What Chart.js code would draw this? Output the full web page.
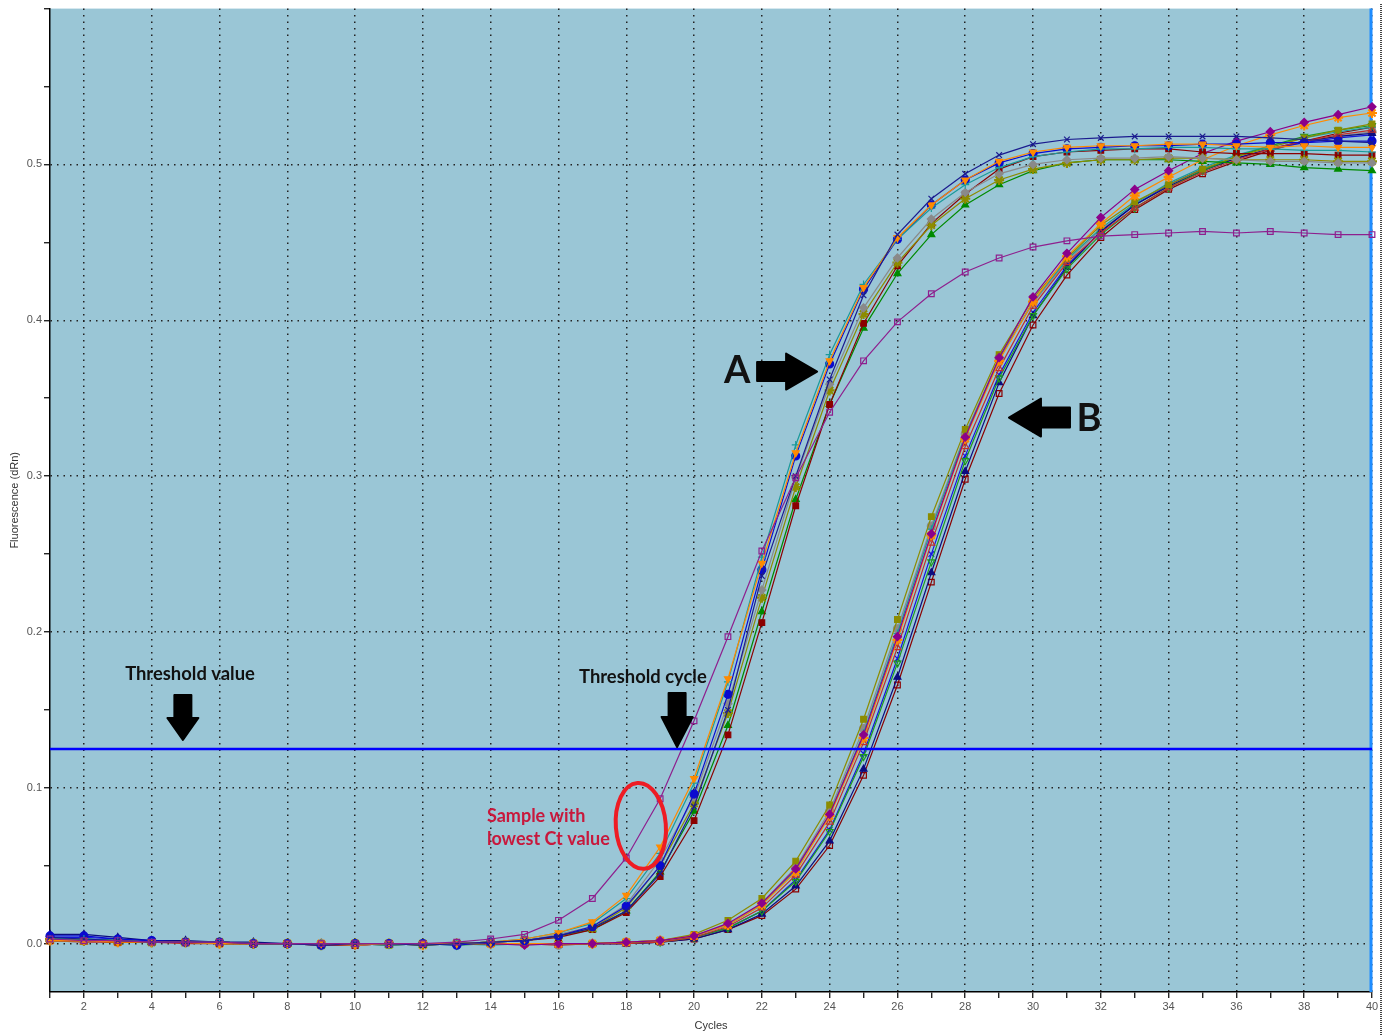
<!DOCTYPE html>
<html>
<head>
<meta charset="utf-8">
<title>Amplification plot</title>
<script src="https://cdn.jsdelivr.net/npm/chart.js@4.4.1/dist/chart.umd.min.js"></script>
<style>
  html, body { margin: 0; padding: 0; background: #fff; }
  #chart { position: relative; width: 1390px; height: 1035px; }
</style>
</head>
<body>
<div id="chart"><canvas id="amp"></canvas></div>
<script>
// Cycle numbers and axis labels
const cycles = [1,2,3,4,5,6,7,8,9,10,11,12,13,14,15,16,17,18,19,20,21,22,23,24,25,26,27,28,29,30,31,32,33,34,35,36,37,38,39,40];
const xLabelValues = [2,4,6,8,10,12,14,16,18,20,22,24,26,28,30,32,34,36,38,40];
const yLabelValues = [0, 0.1, 0.2, 0.3, 0.4, 0.5];
const yLabelText = ['0.0', '0.1', '0.2', '0.3', '0.4', '0.5'];
const thresholdValue = 0.125;

// Fluorescence (dRn) per cycle - early group (A)
const aNavy   = [0.004,0.003,0.002,0.001,0.001,0.001,0.000,0.000,-0.001,0.000,0.000,-0.001,0.000,
  0.001,0.002,0.005,0.010,0.021,0.045,0.088,0.150,0.236,0.300,0.362,0.416,0.455,0.478,0.494,0.506,0.513,0.516,0.517,0.518,0.518,0.518,0.518,0.517,0.516,0.515,0.514];
const aOrange = [0.002,0.002,0.001,0.001,0.001,0.000,0.000,0.000,0.000,-0.001,0.000,0.000,0.000,
  0.001,0.003,0.007,0.014,0.031,0.062,0.106,0.170,0.244,0.315,0.374,0.421,0.453,0.474,0.490,0.502,0.508,0.511,0.512,0.512,0.513,0.513,0.512,0.511,0.512,0.511,0.511];
const aTeal   = [0.003,0.003,0.002,0.001,0.001,0.001,0.000,0.000,0.000,0.000,-0.001,0.000,0.000,
  0.001,0.003,0.007,0.013,0.029,0.058,0.103,0.168,0.248,0.320,0.378,0.423,0.452,0.472,0.487,0.498,0.505,0.508,0.510,0.510,0.511,0.511,0.510,0.510,0.509,0.509,0.508];
const aBlue   = [0.005,0.005,0.003,0.002,0.001,0.001,0.000,0.000,-0.001,0.000,0.000,0.000,-0.001,
  0.001,0.002,0.005,0.011,0.024,0.050,0.096,0.160,0.240,0.313,0.372,0.420,0.452,0.474,0.490,0.501,0.507,0.510,0.511,0.512,0.512,0.513,0.513,0.514,0.514,0.515,0.515];
const aGray   = [0.002,0.002,0.002,0.001,0.001,0.000,0.000,0.000,0.000,-0.001,0.000,0.000,0.000,
  0.001,0.002,0.006,0.011,0.025,0.054,0.094,0.154,0.227,0.299,0.359,0.408,0.440,0.465,0.482,0.494,0.500,0.503,0.504,0.504,0.505,0.504,0.503,0.502,0.502,0.501,0.501];
const aOlive  = [0.003,0.002,0.002,0.001,0.001,0.001,0.000,0.000,-0.001,0.000,0.000,0.000,0.000,
  0.001,0.002,0.005,0.010,0.023,0.050,0.090,0.148,0.222,0.293,0.355,0.404,0.437,0.461,0.478,0.490,0.497,0.501,0.503,0.503,0.504,0.504,0.503,0.503,0.503,0.502,0.502];
const aMaroon = [0.002,0.002,0.001,0.001,0.001,0.000,0.000,0.000,-0.001,-0.001,0.000,0.000,0.000,
  0.001,0.002,0.004,0.009,0.020,0.043,0.079,0.134,0.206,0.281,0.346,0.398,0.435,0.462,0.481,0.497,0.505,0.508,0.509,0.510,0.510,0.508,0.507,0.507,0.507,0.506,0.506];
const aGreen  = [0.003,0.003,0.002,0.001,0.001,0.001,0.000,0.000,0.000,0.000,0.000,-0.001,0.000,
  0.001,0.002,0.005,0.009,0.021,0.046,0.085,0.140,0.213,0.285,0.346,0.395,0.430,0.455,0.474,0.487,0.496,0.501,0.503,0.503,0.503,0.502,0.501,0.500,0.498,0.497,0.496];
const aPurple = [0.003,0.002,0.002,0.001,0.001,0.001,0.000,0.000,0.000,0.000,0.000,0.000,0.001,
  0.003,0.006,0.015,0.029,0.055,0.093,0.143,0.197,0.252,0.299,0.341,0.374,0.399,0.417,0.431,0.440,0.447,0.451,0.454,0.455,0.456,0.457,0.456,0.457,0.456,0.455,0.455];

// Fluorescence (dRn) per cycle - late group (B)
const bOlive  = [0.002,0.002,0.001,0.001,0.001,0.000,0.000,0.000,0.000,0.000,-0.001,0.000,0.000,0.000,0.000,0.000,0.000,0.001,0.002,
  0.006,0.015,0.029,0.053,0.089,0.144,0.208,0.274,0.330,0.378,0.414,0.440,0.461,0.476,0.487,0.497,0.505,0.511,0.517,0.522,0.526];
const bPurple = [0.003,0.002,0.002,0.001,0.001,0.001,0.000,0.000,0.000,-0.001,0.000,0.000,0.000,0.000,-0.001,0.000,0.000,0.001,0.002,
  0.005,0.013,0.026,0.048,0.083,0.134,0.197,0.263,0.325,0.376,0.415,0.443,0.466,0.484,0.496,0.507,0.515,0.521,0.527,0.532,0.537];
const bOrange = [0.002,0.002,0.001,0.001,0.001,0.000,0.000,0.000,0.000,0.000,0.000,-0.001,0.000,0.000,0.000,0.000,0.000,0.001,0.002,
  0.005,0.012,0.025,0.046,0.082,0.132,0.195,0.262,0.324,0.374,0.412,0.441,0.462,0.480,0.492,0.503,0.512,0.519,0.525,0.530,0.533];
const bRed    = [0.002,0.001,0.001,0.001,0.000,0.000,0.000,0.000,-0.001,0.000,0.000,0.000,0.000,0.000,0.000,-0.001,0.000,0.000,0.001,
  0.004,0.011,0.023,0.044,0.078,0.129,0.190,0.257,0.319,0.369,0.409,0.437,0.456,0.472,0.485,0.495,0.503,0.510,0.515,0.519,0.522];
const bGreen  = [0.003,0.002,0.002,0.001,0.001,0.000,0.000,0.000,0.000,0.000,0.000,0.000,-0.001,0.000,0.000,0.000,0.000,0.001,0.001,
  0.004,0.010,0.021,0.040,0.072,0.120,0.180,0.245,0.310,0.363,0.403,0.433,0.455,0.472,0.485,0.496,0.505,0.512,0.518,0.522,0.525];
const bMaroon = [0.002,0.002,0.001,0.001,0.001,0.000,0.000,0.000,0.000,-0.001,0.000,0.000,0.000,0.000,0.000,0.000,0.000,0.000,0.001,
  0.003,0.009,0.018,0.035,0.063,0.108,0.166,0.232,0.298,0.353,0.397,0.429,0.453,0.471,0.484,0.494,0.502,0.509,0.515,0.520,0.524];
const bNavy   = [0.006,0.006,0.004,0.002,0.002,0.001,0.001,0.000,0.000,0.000,-0.001,0.000,0.000,0.000,0.000,0.000,0.000,0.000,0.001,
  0.003,0.009,0.019,0.037,0.066,0.112,0.171,0.238,0.303,0.360,0.403,0.434,0.457,0.474,0.486,0.496,0.504,0.510,0.515,0.518,0.520];
const bTeal   = [0.003,0.003,0.002,0.001,0.001,0.001,0.000,0.000,0.000,0.000,0.000,0.000,0.000,-0.001,0.000,0.000,0.000,0.001,0.002,
  0.005,0.012,0.025,0.047,0.083,0.135,0.199,0.266,0.326,0.375,0.412,0.439,0.459,0.475,0.488,0.498,0.506,0.512,0.517,0.521,0.524];
const bBlue   = [0.004,0.004,0.003,0.002,0.001,0.001,0.000,0.000,0.000,0.000,0.000,-0.001,0.000,0.000,0.000,0.000,0.000,0.000,0.001,
  0.004,0.010,0.021,0.041,0.073,0.122,0.183,0.250,0.313,0.365,0.405,0.435,0.457,0.474,0.487,0.497,0.504,0.510,0.514,0.517,0.519];
const bGray   = [0.002,0.002,0.001,0.001,0.001,0.000,0.000,0.000,0.000,0.000,0.000,0.000,0.000,0.000,0.000,-0.001,0.000,0.001,0.002,
  0.005,0.012,0.026,0.049,0.085,0.138,0.202,0.268,0.327,0.376,0.411,0.438,0.458,0.474,0.486,0.496,0.504,0.510,0.514,0.518,0.521];

// line colour, marker and fill for every well
const wells = [
  { data: aPurple, color: '#8e1f8e', marker: 'rect',     filled: false },
  { data: aNavy,   color: '#1b1b8f', marker: 'crossRot', filled: false },
  { data: aOrange, color: '#ff8a00', marker: 'triangle', filled: true, rot: 180 },
  { data: aTeal,   color: '#1a9a9a', marker: 'cross',    filled: false },
  { data: aBlue,   color: '#0a0ad0', marker: 'circle',   filled: true },
  { data: aGray,   color: '#8a8a8a', marker: 'rectRot',  filled: true },
  { data: aOlive,  color: '#8c8c00', marker: 'star',     filled: true },
  { data: aMaroon, color: '#8b0000', marker: 'rect',     filled: true },
  { data: aGreen,  color: '#008a00', marker: 'triangle', filled: true },
  { data: bPurple, color: '#8b008b', marker: 'rectRot',  filled: true },
  { data: bOrange, color: '#ff8a00', marker: 'star',     filled: true },
  { data: bOlive,  color: '#8c8c00', marker: 'rect',     filled: true },
  { data: bRed,    color: '#c0302a', marker: 'triangle', filled: false },
  { data: bGreen,  color: '#1e9a1e', marker: 'triangle', filled: false, rot: 180 },
  { data: bNavy,   color: '#0c0c80', marker: 'triangle', filled: true },
  { data: bTeal,   color: '#1a9a9a', marker: 'cross',    filled: false },
  { data: bBlue,   color: '#1414e0', marker: 'crossRot', filled: false },
  { data: bGray,   color: '#8a8a8a', marker: 'circle',   filled: true },
  { data: bMaroon, color: '#8b0000', marker: 'rect',     filled: false }
];

function toPoints(values) {
  return values.map((v, i) => ({ x: cycles[i], y: v }));
}

const datasets = [{
  label: 'Threshold',
  data: [{ x: cycles[0], y: thresholdValue }, { x: cycles[cycles.length - 1], y: thresholdValue }],
  borderColor: '#0000ff',
  borderWidth: 2.5,
  pointRadius: 0,
  clip: false
}];
wells.forEach((w, i) => {
  datasets.push({
    label: 'Well ' + (i + 1),
    data: toPoints(w.data),
    borderColor: w.color,
    borderWidth: 1.2,
    pointStyle: w.marker,
    pointRotation: w.rot || 0,
    pointRadius: w.marker === 'star' ? 5 : 4,
    pointBorderWidth: w.marker === 'star' ? 2.2 : 1.2,
    pointBorderColor: w.color,
    pointBackgroundColor: w.filled ? w.color : 'rgba(0,0,0,0)',
    tension: 0,
    clip: false
  });
});

// Callouts placed in cycle / dRn coordinates
const callouts = {
  thresholdValue: { text: 'Threshold value', x: 5.13, y: 0.173 },
  thresholdArrow: { x: 4.92, from: 0.1595, to: 0.1307 },
  thresholdCycle: { text: 'Threshold cycle', x: 18.49, y: 0.171 },
  cycleArrow: { x: 19.5, from: 0.1608, to: 0.1262 },
  groupA: { text: 'A', x: 21.27, y: 0.3677, from: 21.86, to: 23.63, ay: 0.3671 },
  groupB: { text: 'B', x: 31.65, y: 0.337, from: 31.09, to: 29.29, ay: 0.3376 },
  lowest: { lines: ['Sample with', 'lowest Ct value'], x: 13.89, y: [0.082, 0.0673] },
  ring: { x: 18.43, y: 0.0756 }
};

// block arrow from (x0,y0) to tip (x1,y1)
function blockArrow(ctx, x0, y0, x1, y1, shaftW, headW, headLen) {
  const len = Math.hypot(x1 - x0, y1 - y0);
  ctx.save();
  ctx.translate(x0, y0);
  ctx.rotate(Math.atan2(y1 - y0, x1 - x0));
  ctx.beginPath();
  ctx.moveTo(0, -shaftW / 2);
  ctx.lineTo(len - headLen, -shaftW / 2);
  ctx.lineTo(len - headLen, -headW / 2);
  ctx.lineTo(len, 0);
  ctx.lineTo(len - headLen, headW / 2);
  ctx.lineTo(len - headLen, shaftW / 2);
  ctx.lineTo(0, shaftW / 2);
  ctx.closePath();
  ctx.fillStyle = '#000';
  ctx.lineJoin = 'round';
  ctx.strokeStyle = '#000';
  ctx.lineWidth = 2;
  ctx.fill();
  ctx.stroke();
  ctx.restore();
}

const plotDecor = {
  id: 'plotDecor',
  beforeDraw(chart) {
    const { ctx, chartArea: a } = chart;
    ctx.save();
    ctx.fillStyle = '#9ac6d6';
    ctx.fillRect(a.left, a.top, a.right - a.left, a.bottom - a.top);
    ctx.restore();
  },
  beforeDatasetsDraw(chart) {
    const { ctx, chartArea: a } = chart;
    ctx.save();
    ctx.strokeStyle = '#1e8cff';
    ctx.lineWidth = 3;
    ctx.beginPath();
    ctx.moveTo(a.right - 1, a.top);
    ctx.lineTo(a.right - 1, a.bottom);
    ctx.stroke();
    ctx.restore();
  },
  afterDatasetsDraw(chart) {
    const { ctx } = chart;
    const xs = chart.scales.x, ys = chart.scales.y;
    const px = v => xs.getPixelForValue(v), py = v => ys.getPixelForValue(v);
    const c = callouts;

    ctx.save();
    ctx.textAlign = 'center';
    ctx.textBaseline = 'middle';
    ctx.fillStyle = '#111';
    ctx.font = 'bold 18.4px Lato';
    ctx.fillText(c.thresholdValue.text, px(c.thresholdValue.x), py(c.thresholdValue.y));
    ctx.fillText(c.thresholdCycle.text, px(c.thresholdCycle.x), py(c.thresholdCycle.y));
    blockArrow(ctx, px(c.thresholdArrow.x), py(c.thresholdArrow.from), px(c.thresholdArrow.x), py(c.thresholdArrow.to), 17, 31, 22);
    blockArrow(ctx, px(c.cycleArrow.x), py(c.cycleArrow.from), px(c.cycleArrow.x), py(c.cycleArrow.to), 17, 31, 30);

    ctx.font = 'bold 38px Lato';
    ctx.fillText(c.groupA.text, px(c.groupA.x), py(c.groupA.y));
    ctx.fillText(c.groupB.text, px(c.groupB.x), py(c.groupB.y));
    blockArrow(ctx, px(c.groupA.from), py(c.groupA.ay), px(c.groupA.to), py(c.groupA.ay), 19, 36, 31);
    blockArrow(ctx, px(c.groupB.from), py(c.groupB.ay), px(c.groupB.to), py(c.groupB.ay), 20, 38, 32);

    ctx.textAlign = 'left';
    ctx.fillStyle = '#c8183c';
    ctx.font = 'bold 18px Lato';
    c.lowest.lines.forEach((t, i) => ctx.fillText(t, px(c.lowest.x), py(c.lowest.y[i])));

    ctx.strokeStyle = '#ee1c24';
    ctx.lineWidth = 4;
    ctx.beginPath();
    ctx.ellipse(px(c.ring.x), py(c.ring.y), 25, 43, -0.08, 0, Math.PI * 2);
    ctx.stroke();
    ctx.restore();
  },
  afterDraw(chart) {
    // window frame edge on the right
    const { ctx, chartArea: a } = chart;
    ctx.save();
    ctx.strokeStyle = '#444';
    ctx.lineWidth = 2;
    ctx.setLineDash([1, 1]);
    ctx.beginPath();
    ctx.moveTo(a.right + 9, 4);
    ctx.lineTo(a.right + 9, chart.height);
    ctx.stroke();
    ctx.restore();
  }
};

const isYLabel = v => yLabelValues.indexOf(Math.round(v * 100) / 100) >= 0;

new Chart(document.getElementById('amp'), {
  type: 'line',
  data: { datasets: datasets },
  plugins: [plotDecor],
  options: {
    responsive: true,
    maintainAspectRatio: false,
    animation: false,
    layout: { padding: { top: 7, right: 18, left: 0, bottom: 0 } },
    plugins: { legend: { display: false }, tooltip: { enabled: false } },
    scales: {
      x: {
        type: 'linear',
        min: 1,
        max: 40,
        afterFit: s => { s.height = 43; },
        border: { display: true, color: '#000', width: 1.5, dash: [1.5, 5] },
        grid: {
          color: c => xLabelValues.indexOf(c.tick.value) >= 0 ? '#222' : 'rgba(0,0,0,0)',
          lineWidth: 1.5,
          tickColor: '#000',
          tickLength: 6,
          tickWidth: 1.2,
          tickBorderDash: []
        },
        ticks: {
          stepSize: 1,
          autoSkip: false,
          maxRotation: 0,
          padding: 2,
          color: '#555',
          font: { family: 'Liberation Sans', size: 11 },
          callback: v => xLabelValues.indexOf(v) >= 0 ? String(v) : ''
        },
        title: {
          display: true,
          text: 'Cycles',
          color: '#333',
          font: { family: 'Liberation Sans', size: 11 },
          padding: { top: 0, bottom: 2 }
        }
      },
      y: {
        min: -0.031,
        max: 0.6,
        afterFit: s => { s.width = 50; },
        border: { display: true, color: '#000', width: 1.5, dash: [1.5, 5] },
        grid: {
          color: c => (isYLabel(c.tick.value) ? '#222' : 'rgba(0,0,0,0)'),
          lineWidth: 1.5,
          tickColor: '#000',
          tickLength: 6,
          tickWidth: 1.2,
          tickBorderDash: []
        },
        ticks: {
          stepSize: 0.05,
          includeBounds: false,
          autoSkip: false,
          padding: 2,
          color: '#555',
          font: { family: 'Liberation Sans', size: 11 },
          callback: v => {
            const i = yLabelValues.indexOf(Math.round(v * 100) / 100);
            return i >= 0 ? yLabelText[i] : '';
          }
        },
        title: {
          display: true,
          text: 'Fluorescence (dRn)',
          color: '#333',
          font: { family: 'Liberation Sans', size: 11 },
          padding: { top: 8, bottom: 0 }
        }
      }
    }
  }
});
</script>
</body>
</html>
